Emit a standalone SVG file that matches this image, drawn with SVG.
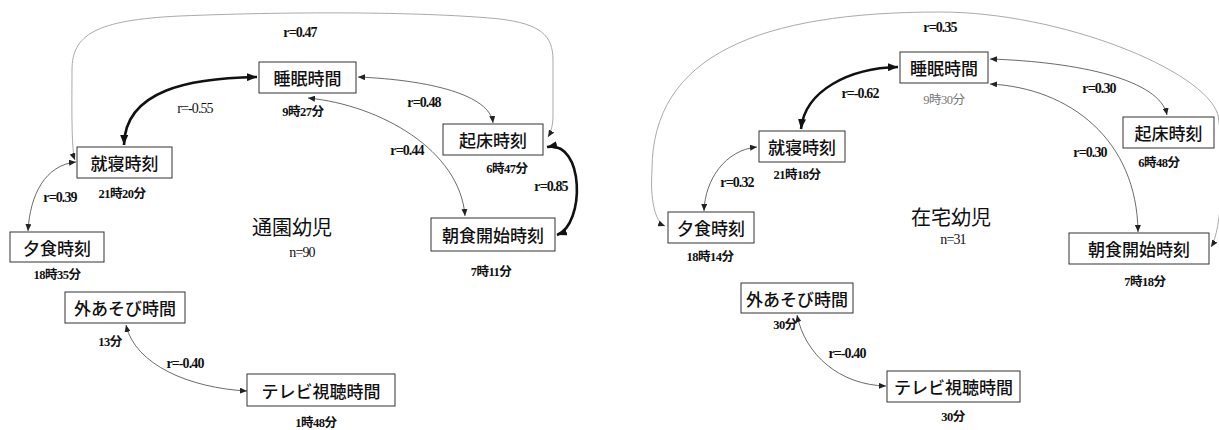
<svg xmlns="http://www.w3.org/2000/svg" width="1219" height="430" viewBox="0 0 1219 430">
<style>
.box{fill:#fff;stroke:#333;stroke-width:1}
.bt{font-family:"Noto Sans CJK JP",sans-serif;font-size:17px;font-weight:500;fill:#111;text-anchor:middle;dominant-baseline:central}
.r{font-family:"Liberation Serif","Noto Sans CJK JP",serif;font-weight:bold;font-size:14px;fill:#111;text-anchor:middle;letter-spacing:-0.9px}
.t{font-family:"Liberation Serif","Noto Sans CJK JP",serif;font-weight:bold;font-size:12.5px;fill:#111;text-anchor:middle;letter-spacing:-0.5px}
.title{font-family:"Noto Sans CJK JP",sans-serif;font-size:20px;fill:#111;text-anchor:middle}
.thin{fill:none;stroke:#444;stroke-width:0.8;marker-start:url(#a);marker-end:url(#a)}
.thick{fill:none;stroke:#111;stroke-width:2.6;marker-start:url(#b);marker-end:url(#b)}
.grey{fill:none;stroke:#aaa;stroke-width:1;marker-start:url(#a);marker-end:url(#a)}
</style>
<defs>
<marker id="a" markerUnits="userSpaceOnUse" markerWidth="7" markerHeight="6" refX="7" refY="3" orient="auto-start-reverse"><path d="M0,0 L7,3 L0,6 z" fill="#222"/></marker>
<marker id="b" markerUnits="userSpaceOnUse" markerWidth="10" markerHeight="8" refX="10" refY="4" orient="auto-start-reverse"><path d="M0,0 L10,4 L0,8 z" fill="#111"/></marker>
</defs>
<g id="connectors">
<path class="grey" d="M75 160 C71 150 72 100 72 70 C72 35 95 20 180 16 C300 11 430 12 500 19 C540 24 553 35 553 60 L553 115 C553 125 551 132 548 137"/>
<path class="thick" d="M257 77 C190 78 125 90 124 145"/>
<path class="thin" d="M358 77 C430 80 490 95 493 123"/>
<path class="thin" d="M308 98 C380 105 460 150 465 216"/>
<path class="thick" d="M547 147 C585 140 585 225 557 235"/>
<path class="thin" d="M76 162 C45 165 30 195 28 231"/>
<path class="thin" d="M126 325 C135 365 190 388 247 391"/>
<path class="grey" d="M665 226 C655 222 650 200 652 170 C652 55 760 12 940 12 C1060 12 1205 70 1218 115 C1225 160 1222 230 1211 247"/>
<path class="thick" d="M898 67 C850 68 805 90 801 129"/>
<path class="thin" d="M990 59 C1080 62 1160 80 1167 115"/>
<path class="thin" d="M990 84 C1070 88 1137 140 1138 232"/>
<path class="thin" d="M757 147 C725 150 705 180 704 211"/>
<path class="thin" d="M797 315 C805 355 840 385 886 386"/>
</g>
<g id="labels">
<text class="r" x="300" y="37">r=0.47</text>
<text class="r" x="195" y="113" style="font-weight:normal">r=-0.55</text>
<text class="r" x="424" y="107">r=0.48</text>
<text class="r" x="407" y="155">r=0.44</text>
<text class="r" x="551" y="191">r=0.85</text>
<text class="r" x="60" y="202">r=0.39</text>
<text class="r" x="185" y="368">r=-0.40</text>
<text class="title" x="292" y="235">通園幼児</text>
<text class="r" x="302" y="257" style="font-weight:normal">n=90</text>
<text class="r" x="940" y="32">r=0.35</text>
<text class="r" x="860" y="98">r=-0.62</text>
<text class="r" x="1099" y="93">r=0.30</text>
<text class="r" x="1090" y="157">r=0.30</text>
<text class="r" x="737" y="187">r=0.32</text>
<text class="r" x="847" y="358">r=-0.40</text>
<text class="title" x="951" y="225">在宅幼児</text>
<text class="r" x="953" y="244" style="font-weight:normal">n=31</text>
</g>
<g id="L-suimin"><rect class="box" x="259" y="62" width="97" height="31"/><text class="bt" x="307.5" y="77.5">睡眠時間</text><text class="t" x="303" y="116">9時27分</text></g>
<g id="L-shushin"><rect class="box" x="77" y="147" width="95" height="31"/><text class="bt" x="124.5" y="162.5">就寝時刻</text><text class="t" x="122" y="198">21時20分</text></g>
<g id="L-kisho"><rect class="box" x="443" y="124" width="100" height="31"/><text class="bt" x="493" y="139.5">起床時刻</text><text class="t" x="507" y="173">6時47分</text></g>
<g id="L-choshoku"><rect class="box" x="431" y="218" width="124" height="33"/><text class="bt" x="493" y="234.5">朝食開始時刻</text><text class="t" x="491" y="276">7時11分</text></g>
<g id="L-yushoku"><rect class="box" x="10" y="232" width="94" height="30"/><text class="bt" x="57" y="247">夕食時刻</text><text class="t" x="57" y="279">18時35分</text></g>
<g id="L-soto"><rect class="box" x="65" y="292" width="120" height="31"/><text class="bt" x="125" y="307.5">外あそび時間</text><text class="t" x="110" y="346">13分</text></g>
<g id="L-tv"><rect class="box" x="247" y="374" width="148" height="32"/><text class="bt" x="321" y="390">テレビ視聴時間</text><text class="t" x="316" y="427">1時48分</text></g>
<g id="R-suimin"><rect class="box" x="900" y="52" width="88" height="31"/><text class="bt" x="944" y="67.5">睡眠時間</text><text class="t" x="944" y="104" style="font-weight:normal;fill:#777">9時30分</text></g>
<g id="R-shushin"><rect class="box" x="759" y="131" width="86" height="31"/><text class="bt" x="802" y="146.5">就寝時刻</text><text class="t" x="797" y="179">21時18分</text></g>
<g id="R-kisho"><rect class="box" x="1123" y="117" width="91" height="31"/><text class="bt" x="1168.5" y="132.5">起床時刻</text><text class="t" x="1159" y="167">6時48分</text></g>
<g id="R-choshoku"><rect class="box" x="1069" y="233" width="140" height="31"/><text class="bt" x="1139" y="248.5">朝食開始時刻</text><text class="t" x="1145" y="286">7時18分</text></g>
<g id="R-yushoku"><rect class="box" x="668" y="212" width="86" height="31"/><text class="bt" x="711" y="227.5">夕食時刻</text><text class="t" x="710" y="261">18時14分</text></g>
<g id="R-soto"><rect class="box" x="741" y="283" width="112" height="30"/><text class="bt" x="797" y="298">外あそび時間</text><text class="t" x="785" y="329">30分</text></g>
<g id="R-tv"><rect class="box" x="887" y="371" width="133" height="31"/><text class="bt" x="953.5" y="386.5">テレビ視聴時間</text><text class="t" x="953" y="421">30分</text></g>
</svg>
